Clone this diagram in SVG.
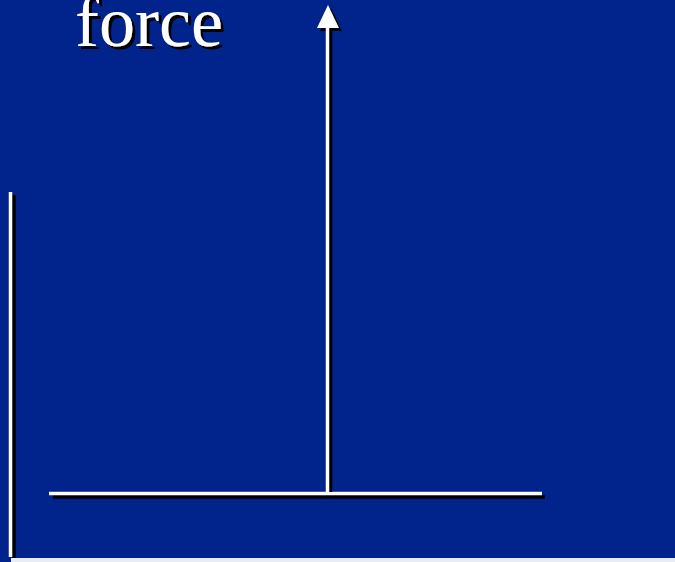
<svg xmlns="http://www.w3.org/2000/svg" width="675" height="562" viewBox="0 0 675 562">
<defs>
<filter id="sh" x="-10%" y="-20%" width="130%" height="150%">
<feDropShadow dx="3" dy="3" stdDeviation="0" flood-color="#000000" flood-opacity="1"/>
</filter>
</defs>
<style>
.t{font-family:"Liberation Serif","Times New Roman",serif;font-size:72px;fill:#ffffff}
.w{stroke:#ffffff;stroke-width:3.5;fill:none}
.s{stroke:#000000;stroke-width:3.5;fill:none}
</style>
<rect x="0" y="0" width="675" height="562" fill="#00248c"/>
<rect x="11" y="558" width="664" height="4" fill="#e8ecf4"/>
<g id="label">
<text class="t" x="75" y="46" filter="url(#sh)">force</text>
</g>
<g id="left-axis">
<line class="s" x1="14" y1="195" x2="14" y2="558"/>
<line class="w" x1="10.5" y1="192" x2="10.5" y2="557"/>
</g>
<g id="surface">
<line class="s" x1="53" y1="497" x2="545" y2="497"/>
<line class="w" x1="49" y1="493.5" x2="542" y2="493.5"/>
</g>
<g id="connectors">
<line class="s" x1="330.5" y1="30" x2="330.5" y2="492"/>
<polygon points="331,8 342,31 320,31" fill="#000000"/>
<line class="w" x1="327.5" y1="25" x2="327.5" y2="493"/>
<polygon points="328,5 339,28 317,28" fill="#ffffff"/>
</g>
</svg>
